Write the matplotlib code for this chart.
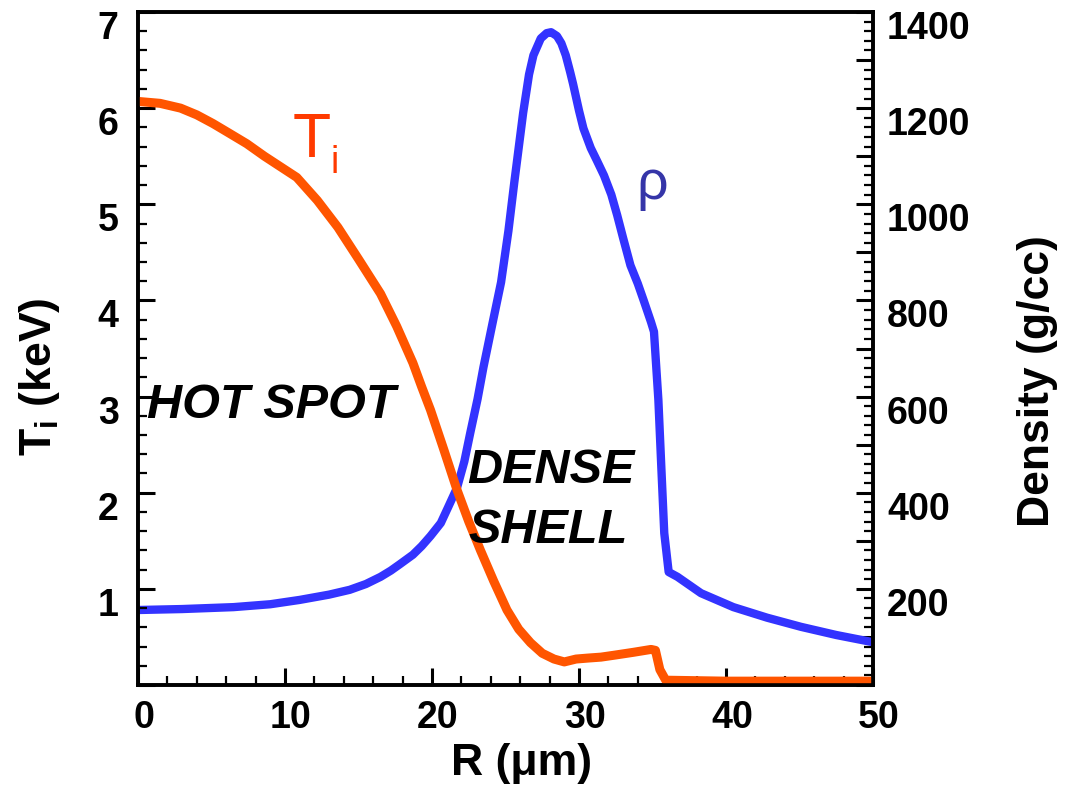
import matplotlib
matplotlib.use("Agg")
import matplotlib.pyplot as plt
import matplotlib.transforms as mtransforms
from matplotlib.ticker import MultipleLocator, FuncFormatter

# ---- data ----
R_T = [0, 1.5, 2.9, 4.0, 5.1, 6.2, 7.4, 8.6, 9.7, 10.8, 12.2, 13.6, 15.0, 16.5, 17.6, 18.7,
       19.3, 19.9, 20.8, 21.7, 22.5, 23.3, 24.2, 25.1, 25.9, 26.7, 27.5, 28.3, 29.0, 29.8,
       30.6, 31.5, 32.4, 33.7, 34.9, 35.2, 35.5, 35.9, 40, 45, 50]
T_i = [6.07, 6.05, 6.0, 5.93, 5.84, 5.74, 5.63, 5.50, 5.39, 5.28, 5.04, 4.76, 4.43, 4.07,
       3.73, 3.35, 3.10, 2.86, 2.45, 2.03, 1.70, 1.40, 1.08, 0.78, 0.58, 0.44, 0.33, 0.27,
       0.24, 0.27, 0.28, 0.29, 0.31, 0.34, 0.37, 0.36, 0.16, 0.05, 0.04, 0.04, 0.04]

R_rho = [0, 3, 6.5, 9, 11, 13, 14.4, 15.5, 16.5, 17.2, 17.8, 18.7, 19.3, 19.9, 20.6, 21.1,
         21.7, 22.2, 22.6, 23.1, 23.5, 24.1, 24.7, 25.2, 25.6, 26.2, 26.6, 26.9, 27.4, 27.8,
         28.1, 28.5, 28.8, 29.1, 29.4, 29.6, 30.0, 30.3, 30.8, 31.2, 31.7, 32.2, 32.6, 33.0,
         33.5, 34.0, 34.4, 34.9, 35.1, 35.4, 35.6, 35.8, 36.1, 36.7, 38.3, 40.5, 42.8, 45.1,
         47.5, 50]
rho = [156, 158, 162, 168, 177, 188, 198, 210, 225, 238, 251, 271, 289, 310, 337, 370,
       410, 465, 524, 595, 661, 750, 838, 945, 1046, 1190, 1270, 1310, 1345, 1356,
       1358, 1350, 1335, 1310, 1275, 1250, 1195, 1158, 1117, 1092, 1060, 1020, 977, 930,
       873, 835, 800, 755, 735, 593, 453, 316, 235, 225, 191, 162, 140, 121,
       104, 89]

x_ticks = [0, 10, 20, 30, 40, 50]
left_tick_labels = [1, 2, 3, 4, 5, 6, 7]
right_tick_labels = [200, 400, 600, 800, 1000, 1200, 1400]

plt.rcParams['font.family'] = ['Liberation Sans', 'DejaVu Sans']
plt.rcParams['font.weight'] = 'bold'
plt.rcParams['mathtext.fontset'] = 'custom'
plt.rcParams['mathtext.rm'] = 'Liberation Sans:bold'
plt.rcParams['mathtext.it'] = 'Liberation Sans:bold'

fig = plt.figure(figsize=(10.65, 7.91), dpi=100)
ax = fig.add_axes([138/1065, 106/791, 735/1065, 673/791])
ax2 = ax.twinx()
ax.set_zorder(ax2.get_zorder() + 1)
ax.patch.set_visible(False)

orange = '#ff5500'
blue = '#3333ff'

ax2.plot(R_rho, rho, color=blue, lw=6, solid_joinstyle='round', solid_capstyle='butt')
ax.plot(R_T, T_i, color=orange, lw=6.5, solid_joinstyle='round', solid_capstyle='butt')

ax.set_xlim(0, 50)
ax.set_ylim(0, 7)
ax2.set_ylim(0, 1400)

# ticks
ax.xaxis.set_major_locator(MultipleLocator(10))
ax.xaxis.set_minor_locator(MultipleLocator(2))
ax.yaxis.set_major_locator(MultipleLocator(1))
ax.yaxis.set_minor_locator(MultipleLocator(0.2))
ax2.yaxis.set_major_locator(MultipleLocator(100))
ax2.yaxis.set_minor_locator(MultipleLocator(20))

ax.yaxis.set_major_formatter(FuncFormatter(
    lambda v, p: str(int(round(v))) if int(round(v)) in left_tick_labels else ''))
ax2.yaxis.set_major_formatter(FuncFormatter(
    lambda v, p: str(int(round(v))) if int(round(v)) in right_tick_labels else ''))
ax.set_xticks(x_ticks)

tick_fs = 27
ax.tick_params(axis='x', which='major', direction='in', length=12, width=2.2,
               labelsize=tick_fs, pad=11, top=False)
ax.tick_params(axis='x', which='minor', direction='in', length=6.5, width=1.6, top=False)
ax.tick_params(axis='y', which='major', direction='in', length=12, width=2.2,
               labelsize=tick_fs, pad=14, right=False)
ax.tick_params(axis='y', which='minor', direction='in', length=6.5, width=1.6, right=False)
ax2.tick_params(axis='y', which='major', direction='in', length=12, width=2.2,
                labelsize=tick_fs, pad=10)
ax2.tick_params(axis='y', which='minor', direction='in', length=6.5, width=1.6)

for a in (ax, ax2):
    for s in a.spines.values():
        s.set_linewidth(2.6)

# annotations
ann_fs = 35
ax.text(0.6, 2.78, 'HOT SPOT', fontsize=ann_fs, fontstyle='italic', fontweight='bold',
        ha='left', va='baseline')
ax.text(22.4, 2.10, 'DENSE', fontsize=ann_fs, fontstyle='italic', fontweight='bold',
        ha='left', va='baseline')
ax.text(22.5, 1.48, 'SHELL', fontsize=ann_fs, fontstyle='italic', fontweight='bold',
        ha='left', va='baseline')
ax.text(10.5, 5.49, 'T', fontsize=45, fontweight='normal', color='#ff3a00',
        ha='left', va='baseline')
ax.text(13.1, 5.33, 'i', fontsize=27, fontweight='normal', color='#ff3a00',
        ha='left', va='baseline')
ax.text(33.9, 5.06, 'ρ', fontsize=40, fontweight='normal', color='#3535a8',
        ha='left', va='baseline')

# axis labels
lab_fs = 32
fig.text(522/1065, 1 - 763/791, 'R (μm)', fontsize=lab_fs, fontweight='bold',
         ha='center', va='center')
fig.text(40/1065, 1 - 377/791, r'T$_{\mathregular{i}}$ (keV)', fontsize=lab_fs,
         fontweight='bold', ha='center', va='center', rotation=90)
fig.text(1038/1065, 1 - 381/791, 'Density (g/cc)', fontsize=lab_fs, fontweight='bold',
         ha='center', va='center', rotation=90)

fig.canvas.draw()
offy = mtransforms.ScaledTranslation(0, -13/100, fig.dpi_scale_trans)
offx = mtransforms.ScaledTranslation(6/100, 0, fig.dpi_scale_trans)
for t in ax.yaxis.get_major_ticks():
    t.label1.set_transform(t.label1.get_transform() + offy)
for t in ax2.yaxis.get_major_ticks():
    t.label2.set_transform(t.label2.get_transform() + offy)
for t in ax.xaxis.get_major_ticks():
    t.label1.set_transform(t.label1.get_transform() + offx)

fig.savefig('out.png', dpi=100)
